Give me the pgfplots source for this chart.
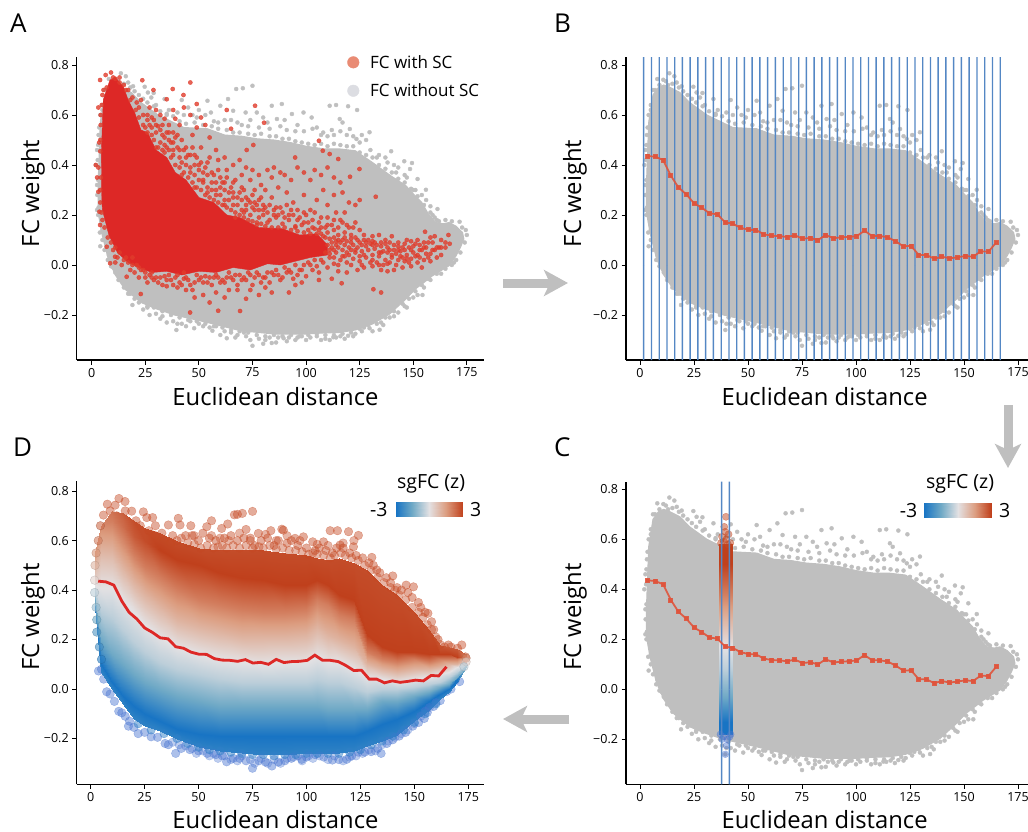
\documentclass[border=0pt]{standalone}
\usepackage{pgfplots}
\usepackage{pgfplotstable}
\usepackage{fontspec}
\setmainfont{Open Sans}
\pgfplotsset{compat=1.18}
\usetikzlibrary{arrows.meta}
\definecolor{gr}{RGB}{191,191,191}
\definecolor{redcore}{RGB}{221,40,38}
\definecolor{redpt}{RGB}{224,60,44}
\definecolor{blueline}{RGB}{84,135,196}
\definecolor{meanc}{RGB}{224,84,60}
\definecolor{topb}{RGB}{196,72,34}
\definecolor{botb}{RGB}{72,116,208}
\definecolor{botc}{RGB}{47,127,200}
\newcommand\lf{\fontsize{23.8}{26}\selectfont}
\newcommand\kf{\fontsize{17}{19}\selectfont}
\newcommand\cf{\fontsize{19.5}{21}\selectfont}
\newcommand\pf{\fontsize{26}{28}\selectfont}

\pgfplotstableread[row sep=\\]{x y\\
4.0 .57\\6 .68\\8.5 .71\\11 .72\\14 .71\\18.5 .69\\23 .65\\27 .625\\31 .60\\37 .575\\43 .55\\54 .545\\62 .52\\70 .515\\77 .505\\85 .50\\92.6 .49\\100 .475\\108 .465\\115 .465\\123 .457\\131 .41\\139 .36\\146.6 .317\\150 .285\\154 .25\\157 .205\\160.5 .17\\164 .165\\166.7 .17\\170 .155\\173 .13\\173.6 .104\\172 .07\\170 .037\\166.7 -.003\\159 -.043\\155 -.07\\151 -.096\\146.6 -.136\\139 -.196\\131 -.236\\123 -.26\\115.7 -.27\\108 -.272\\100 -.276\\85 -.276\\69.4 -.263\\54 -.23\\38.6 -.2\\30 -.175\\23 -.15\\15.4 -.096\\11 -.04\\7.7 .024\\4.6 .13\\3 .21\\3 .33\\3.5 .45\\}\greyhull

\pgfplotstableread[row sep=\\]{x y\\
2 .40\\3 .34\\2.5 .46\\3.2 .52\\4 .60\\2.6 .28\\3.2 .23\\4.5 .20\\5 .14\\4 .075\\7 .07\\8 .09\\7.5 .02\\9 -.005\\11 -.03\\12.5 -.06\\15.5 -.08\\17 -.115\\20 -.135\\24 -.178\\26 -.17\\19 -.16\\21 -.115\\30 -.195\\33 -.205\\35 -.23\\38 -.225\\39.5 -.26\\42 -.235\\47.8 -.253\\46 -.225\\52 -.245\\56.3 -.263\\58 -.245\\60 -.28\\63 -.293\\65 -.27\\68 -.28\\72 -.285\\75 -.323\\78 -.295\\81 -.30\\84 -.312\\87 -.29\\89.5 -.293\\92 -.29\\95 -.30\\98 -.285\\102 -.29\\105 -.285\\109 -.295\\112.7 -.289\\116 -.285\\119.6 -.283\\123 -.275\\126 -.265\\129.6 -.253\\134.3 -.259\\135 -.23\\139 -.21\\143 -.19\\146 -.165\\150 -.13\\154.3 -.12\\149.7 -.069\\155 -.09\\158 -.06\\163 -.035\\168 .0\\170 .02\\172 .05\\174 .09\\175 .12\\174.5 .14\\171.6 .173\\172.8 .15\\168 .175\\165 .18\\162 .175\\160 .19\\161.3 .224\\158 .235\\155.9 .301\\156 .26\\152 .344\\150 .30\\148.5 .384\\149.4 .408\\145.8 .415\\143 .39\\147 .35\\139.7 .455\\137 .43\\141 .40\\134 .44\\129.6 .531\\128 .50\\126 .52\\123.8 .62\\119.6 .635\\123.5 .504\\120.4 .544\\117 .57\\115.7 .584\\114 .64\\111 .637\\112 .54\\108 .53\\102.6 .59\\105 .55\\98.8 .61\\96 .56\\93.4 .604\\90 .58\\88.7 .644\\86.4 .584\\84 .637\\82 .57\\77 .61\\80 .59\\75 .717\\71.8 .61\\74 .58\\70.5 .707\\67.4 .704\\66 .617\\68 .57\\63.6 .664\\60 .637\\62 .58\\55.6 .61\\54 .657\\57 .575\\50 .62\\47 .60\\45 .63\\42 .66\\40 .61\\34 .664\\36 .62\\27.8 .67\\28.9 .688\\26.2 .69\\24.7 .713\\19.3 .715\\22 .68\\17 .73\\15.9 .755\\13.6 .767\\13 .72\\10.8 .741\\8 .744\\6 .70\\5 .64\\
5 .62\\7 .70\\9 .72\\12 .735\\15 .725\\18 .71\\20 .695\\24 .665\\26 .65\\29 .635\\32 .615\\35 .60\\38 .595\\41 .575\\44 .565\\48 .57\\52 .56\\56 .555\\59 .545\\63 .54\\66 .53\\69 .53\\73 .525\\76 .52\\79 .525\\83 .515\\86 .515\\89 .505\\92 .505\\95 .495\\98 .49\\101 .485\\104 .48\\107 .485\\110 .475\\113 .485\\116 .48\\119 .475\\122 .475\\125 .45\\128 .44\\131 .43\\134 .40\\137 .385\\140 .37\\143 .345\\146 .33\\149 .305\\152 .275\\155 .24\\158 .21\\161 .18\\
5 .10\\6 .06\\8 .04\\10 -.01\\13 -.05\\15 -.09\\18 -.115\\22 -.15\\26 -.165\\29 -.17\\33 -.185\\37 -.20\\41 -.21\\45 -.22\\49 -.225\\53 -.235\\57 -.245\\61 -.25\\65 -.26\\69 -.265\\73 -.27\\77 -.28\\81 -.285\\85 -.28\\89 -.285\\93 -.28\\97 -.285\\101 -.28\\105 -.275\\109 -.28\\113 -.28\\117 -.275\\121 -.27\\125 -.255\\129 -.24\\133 -.235\\137 -.21\\141 -.185\\145 -.155\\148 -.135\\151 -.105\\154 -.08\\157 -.055\\161 -.035\\165 -.015\\169 .01\\
3 .20\\2.5 .22\\2.5 .32\\2.8 .42\\3 .48\\3.5 .55\\4 .24\\3.8 .13\\
30 .64\\35 .605\\43 .60\\49 .59\\53 .60\\59 .57\\65 .58\\70 .56\\73 .555\\78 .55\\83 .545\\88 .555\\91 .54\\95 .535\\99 .535\\103 .545\\107 .52\\110 .515\\113 .52\\116 .535\\119 .52\\122 .515\\125 .49\\130 .46\\133 .43\\138 .41\\142 .37\\146 .36\\151 .30\\154 .28\\159 .2\\
27 -.20\\32 -.215\\40 -.235\\44 -.245\\50 -.235\\55 -.25\\62 -.265\\67 -.29\\71 -.27\\74 -.30\\80 -.315\\83 -.29\\86 -.31\\91 -.305\\96 -.29\\100 -.30\\107 -.30\\111 -.30\\114 -.29\\118 -.295\\122 -.285\\127 -.25\\131 -.265\\136 -.24\\141 -.205\\147 -.17\\152 -.12\\}\greypts

\pgfplotstableread[row sep=\\]{x y\\
4.7 .26\\4.5 .45\\5.4 .66\\8.5 .74\\11 .75\\14.8 .713\\17 .66\\20 .61\\23 .54\\26 .53\\30 .46\\35 .43\\39 .37\\44 .34\\50 .27\\57 .25\\63 .20\\69 .19\\78 .15\\89 .145\\97 .12\\105 .125\\110 .08\\110 .04\\102 .03\\95 .015\\88 .0\\82 .005\\74 -.02\\66 -.01\\58 -.03\\50 -.025\\42 -.04\\35 -.025\\28 -.03\\22 -.01\\17 .01\\12 .05\\8 .12\\5 .22\\}\redhull

\pgfplotstableread[row sep=\\]{x y\\
1.9 .40\\3.1 .63\\3.1 .39\\2.5 .35\\3.9 .74\\3.9 .16\\3.1 .293\\3.6 .213\\7 .073\\8.6 .007\\10.9 .033\\16.3 -.047\\5.5 .70\\6.5 .76\\9 .77\\11 .745\\4.2 .56\\3.5 .49\\4 .455\\13 .73\\16 .70\\18 .66\\20.5 .62\\22 .59\\24 .56\\26 .53\\28 .55\\23.6 .739\\28.8 .70\\37.8 .704\\42.8 .68\\46 .73\\35 .663\\49 .644\\63 .62\\76.2 .637\\80.4 .569\\106 .497\\75.4 .48\\72.3 .46\\94.9 .43\\107.8 .457\\111 .444\\115 .424\\124.9 .384\\120.5 .353\\132.5 .273\\155.5 .133\\166.4 .12\\30 .62\\32 .60\\34 .585\\31 .555\\36 .56\\38 .62\\39 .585\\41 .56\\43 .63\\46 .60\\33 .52\\36 .50\\38 .53\\42 .50\\47 .52\\49 .55\\51 .59\\53 .56\\30 .47\\34 .45\\38 .46\\41 .43\\44 .47\\48 .44\\51 .47\\55 .51\\58 .46\\62 .43\\65 .545\\59 .42\\54 .41\\50 .38\\46 .39\\42 .36\\52 .34\\56 .37\\60 .35\\63 .38\\66 .40\\69 .42\\72 .39\\70 .36\\66 .33\\62 .30\\58 .30\\54 .29\\48 .31\\75 .38\\78 .36\\74 .34\\70 .31\\66 .27\\62 .24\\72 .27\\76 .30\\79 .32\\82 .38\\85 .39\\88 .37\\84 .35\\81 .30\\78 .26\\75 .23\\71 .21\\67 .19\\80 .22\\84 .27\\87 .31\\90 .36\\93 .34\\96 .39\\99 .37\\91 .29\\94 .25\\88 .23\\85 .20\\82 .17\\77 .16\\92 .20\\96 .22\\99 .28\\102 .34\\104 .38\\107 .36\\110 .39\\113 .35\\116 .33\\108 .30\\105 .26\\102 .22\\99 .17\\95 .15\\103 .15\\107 .19\\110 .24\\113 .28\\117 .29\\120 .25\\123 .24\\125 .26\\118 .21\\114 .21\\110 .16\\106 .14\\113 .14\\117 .17\\120 .15\\123 .17\\125 .14\\127 .12\\109 .11\\112 .09\\115 .12\\118 .11\\121 .09\\124 .10\\128 .09\\131 .115\\134 .12\\137 .10\\140 .115\\143 .09\\146 .085\\149 .095\\152 .10\\155 .09\\158 .11\\160 .115\\163 .10\\165 .09\\167 .085\\162 .07\\159 .06\\156 .045\\153 .06\\150 .05\\147 .04\\144 .055\\141 .06\\138 .07\\135 .075\\132 .065\\129 .06\\126 .055\\123 .05\\120 .04\\117 .06\\114 .05\\111 .03\\113 .005\\116 .02\\119 .01\\122 .025\\125 .015\\128 .03\\131 .02\\134 .035\\137 .02\\140 .03\\143 .02\\146 .015\\149 .025\\152 .01\\155 .02\\158 .015\\161 .03\\163 .04\\154 -.01\\149 -.005\\145 -.01\\141 -.02\\138 -.025\\135 -.02\\131 -.005\\127 -.01\\124 -.02\\119 -.03\\115 -.025\\110 -.01\\106 -.03\\103 -.02\\100 -.045\\97 -.02\\94 -.055\\91 -.03\\88 -.06\\85 -.04\\82 -.03\\79 -.07\\76 -.05\\73 -.03\\70 -.06\\67 -.04\\64 -.03\\61 -.06\\58 -.04\\55 -.05\\52 -.07\\49 -.04\\46 -.08\\43 -.055\\40 -.04\\37 -.06\\34 -.045\\31 -.07\\28 -.05\\25 -.03\\22 -.01\\19 .0\\45.9 -.19\\69.2 -.184\\59 -.183\\22.9 -.116\\135 -.11\\131.4 -.097\\116.6 -.073\\48 -.13\\52 -.12\\55 -.15\\58 -.11\\62 -.13\\64 -.10\\68 -.10\\72 -.135\\74 -.10\\78 -.12\\81 -.09\\84 -.11\\92 -.11\\95 -.08\\98 -.07\\106 -.06\\112 -.055\\44 -.10\\40 -.09\\35 -.085\\
22 .63\\24 .60\\26 .58\\28 .52\\30 .53\\32 .49\\34 .51\\36 .46\\38 .44\\40 .47\\42 .41\\44 .43\\46 .37\\48 .40\\50 .34\\52 .37\\54 .31\\56 .33\\58 .28\\60 .31\\62 .26\\64 .29\\66 .24\\68 .27\\70 .22\\72 .24\\74 .20\\76 .22\\78 .19\\80 .20\\83 .18\\86 .19\\89 .165\\92 .18\\95 .155\\98 .16\\101 .14\\104 .145\\107 .125\\110 .13\\113 .11\\
23 .66\\27 .63\\29 .58\\33 .56\\35 .53\\37 .49\\40 .52\\43 .46\\45 .44\\47 .47\\49 .43\\51 .41\\53 .39\\55 .43\\57 .36\\59 .38\\61 .33\\63 .35\\65 .31\\67 .34\\69 .29\\71 .30\\73 .26\\75 .28\\77 .24\\79 .27\\81 .23\\83 .24\\86 .23\\89 .21\\91 .24\\94 .20\\97 .19\\100 .20\\103 .18\\106 .17\\109 .15\\112 .16\\115 .15\\118 .13\\121 .12\\
12 .03\\14 .0\\16 .03\\18 -.02\\20 -.03\\22 -.05\\24 -.02\\26 -.07\\28 -.03\\30 -.05\\33 -.08\\36 -.04\\38 -.08\\41 -.07\\43 -.03\\45 -.06\\47 -.10\\50 -.06\\53 -.045\\56 -.08\\59 -.05\\62 -.07\\65 -.05\\68 -.08\\71 -.05\\75 -.08\\77 -.03\\80 -.05\\83 -.07\\86 -.02\\89 -.05\\92 -.02\\96 -.04\\99 .0\\102 .0\\105 -.005\\108 .01\\
110 .08\\112 .07\\114 .08\\116 .09\\118 .08\\120 .07\\122 .08\\124 .07\\126 .08\\128 .075\\130 .085\\132 .09\\134 .05\\136 .055\\138 .05\\140 .04\\142 .045\\144 .035\\146 .06\\148 .07\\150 .075\\152 .04\\154 .06\\156 .07\\158 .045\\160 .06\\131 .04\\133 .01\\136 .0\\139 .01\\142 .0\\145 .03\\148 .01\\151 .035\\125 .035\\121 .06\\117 .035\\113 .03\\109 .05\\
7 .71\\10 .75\\13 .75\\15 .72\\17 .70\\19 .67\\21 .65\\25 .55\\27 .56\\29 .50\\31 .47\\33 .46\\35 .47\\37 .43\\39 .40\\41 .39\\43 .37\\45 .35\\47 .33\\49 .31\\51 .30\\53 .28\\55 .27\\57 .26\\59 .25\\61 .24\\63 .23\\65 .22\\67 .21\\69 .20\\71 .19\\73 .18\\75 .175\\77 .17\\79 .165\\81 .155\\84 .15\\87 .15\\90 .15\\93 .14\\96 .135\\99 .13\\102 .125\\105 .125\\108 .115\\111 .105\\114 .095\\
26 .60\\28 .59\\30 .56\\32 .54\\34 .48\\36 .53\\38 .49\\39 .51\\41 .46\\44 .40\\46 .44\\48 .36\\50 .40\\52 .33\\54 .36\\56 .30\\58 .33\\60 .28\\62 .33\\64 .26\\66 .29\\68 .24\\70 .26\\72 .22\\74 .25\\76 .25\\78 .22\\80 .24\\82 .21\\85 .22\\87 .20\\90 .19\\93 .22\\96 .18\\99 .21\\101 .17\\104 .21\\107 .15\\110 .19\\113 .18\\116 .18\\119 .16\\122 .15\\
111 .06\\113 .06\\115 .10\\117 .10\\119 .095\\121 .105\\123 .11\\125 .09\\127 .10\\129 .10\\131 .095\\133 .08\\135 .09\\137 .085\\139 .09\\141 .08\\143 .075\\145 .07\\147 .10\\149 .06\\151 .085\\153 .08\\155 .07\\157 .09\\159 .09\\161 .07\\163 .07\\165 .07\\157 .03\\153 .03\\147 .025\\143 .06\\139 .06\\135 .05\\131 .08\\127 .04\\123 .06\\119 .05\\115 .07\\111 .045\\115 .0\\118 .035\\121 .0\\126 .0\\130 .01\\134 .0\\138 .005\\
10 .06\\11 .01\\13 .05\\15 .02\\17 .01\\19 .03\\21 .0\\23 -.02\\25 -.05\\27 -.04\\29 -.06\\32 -.05\\35 -.06\\39 -.05\\42 -.08\\44 -.05\\48 -.07\\51 -.05\\54 -.07\\57 -.05\\60 -.07\\63 -.05\\66 -.06\\69 -.04\\72 -.06\\74 -.04\\78 -.04\\81 -.05\\84 -.03\\87 -.04\\90 -.01\\93 -.03\\95 .0\\98 -.02\\101 .01\\104 .02\\107 .02\\
4 .30\\4.3 .35\\4 .25\\4.6 .21\\5 .18\\6 .15\\7.5 .11\\9 .09\\11 .07\\4 .50\\4.2 .60\\4.7 .64\\5 .68\\}\redpts

\pgfplotstableread[row sep=\\]{x y\\
3.5 .436\\7.1 .433\\10.7 .42\\14.3 .357\\17.8 .31\\21.4 .283\\25.0 .247\\28.6 .229\\32.2 .207\\35.8 .203\\39.4 .171\\43.0 .165\\46.5 .149\\50.1 .141\\53.7 .14\\57.3 .123\\60.9 .117\\64.5 .116\\68.1 .112\\71.7 .119\\75.2 .105\\78.8 .108\\82.4 .10\\86.0 .12\\89.6 .107\\93.2 .111\\96.8 .112\\100.4 .116\\103.9 .137\\107.5 .116\\111.1 .116\\114.7 .111\\118.3 .095\\121.9 .075\\125.5 .076\\129.1 .04\\132.6 .04\\136.2 .025\\139.8 .033\\143.4 .027\\147.0 .031\\150.6 .036\\154.2 .033\\157.8 .055\\161.3 .053\\164.9 .09\\}\meanline

\pgfplotstableread[row sep=\\]{x y\\
1.7 .832\\5.3 .832\\8.9 .832\\12.5 .832\\16.1 .832\\19.6 .832\\23.2 .832\\26.8 .832\\30.4 .832\\34.0 .832\\37.6 .832\\41.2 .832\\44.8 .832\\48.3 .832\\51.9 .832\\55.5 .832\\59.1 .832\\62.7 .832\\66.3 .832\\69.9 .832\\73.5 .832\\77.0 .832\\80.6 .832\\84.2 .832\\87.8 .832\\91.4 .832\\95.0 .832\\98.6 .832\\102.2 .832\\105.8 .832\\109.3 .832\\112.9 .832\\116.5 .832\\120.1 .832\\123.7 .832\\127.3 .832\\130.9 .832\\134.5 .832\\138.0 .832\\141.6 .832\\145.2 .832\\148.8 .832\\152.4 .832\\156.0 .832\\159.6 .832\\163.2 .832\\166.8 .832\\}\binedges

% mesh for panel D: one column per x, nine levels of the z-scored colour
\pgfplotstableread[row sep=\\]{x y m\\
2 .33 -3\\2 .33 -3\\2 .36 -1.5\\2 .39 -.5\\2 .42 0\\2 .46 .6\\2 .50 1\\2 .53 1.3\\2 .55 1.5\\
5 .07 -2.6\\5 .10 -3\\5 .20 -1.5\\5 .32 -.5\\5 .41 0\\5 .52 .7\\5 .60 1.3\\5 .64 1.6\\5 .66 1.8\\
10 .0 -2.6\\10 .03 -3\\10 .14 -1.5\\10 .29 -.5\\10 .41 0\\10 .53 .8\\10 .62 1.5\\10 .68 2\\10 .72 2.2\\
15 -.06 -2.6\\15 -.03 -3\\15 .10 -1.5\\15 .24 -.5\\15 .36 0\\15 .49 1\\15 .59 1.8\\15 .66 2.3\\15 .71 2.5\\
20 -.12 -2.6\\20 -.07 -3\\20 .06 -1.5\\20 .19 -.5\\20 .31 0\\20 .43 1\\20 .54 2\\20 .62 2.6\\20 .68 2.8\\
25 -.15 -2.6\\25 -.10 -3\\25 .03 -1.5\\25 .15 -.5\\25 .26 0\\25 .38 1\\25 .49 2\\25 .60 2.8\\25 .65 2.8\\
32 -.17 -2.6\\32 -.13 -3\\32 .0 -1.5\\32 .11 -.5\\32 .21 0\\32 .33 1\\32 .45 2\\32 .56 3\\32 .63 2.8\\
40 -.20 -2.6\\40 -.16 -3\\40 -.03 -1.5\\40 .08 -.5\\40 .17 0\\40 .28 1\\40 .40 2\\40 .52 3\\40 .60 2.8\\
50 -.235 -2.6\\50 -.18 -3\\50 -.05 -1.5\\50 .06 -.5\\50 .14 0\\50 .25 1\\50 .36 2\\50 .50 3\\50 .57 2.8\\
60 -.25 -2.6\\60 -.19 -3\\60 -.07 -1.5\\60 .04 -.5\\60 .12 0\\60 .23 1\\60 .34 2\\60 .47 3\\60 .56 2.8\\
70 -.26 -2.6\\70 -.19 -3\\70 -.07 -1.5\\70 .03 -.5\\70 .11 0\\70 .21 1\\70 .32 2\\70 .45 3\\70 .56 2.8\\
80 -.265 -2.6\\80 -.19 -3\\80 -.07 -1.5\\80 .03 -.5\\80 .10 0\\80 .21 1\\80 .31 2\\80 .44 3\\80 .56 2.8\\
90 -.265 -2.6\\90 -.19 -3\\90 -.07 -1.5\\90 .03 -.5\\90 .11 0\\90 .21 1\\90 .31 2\\90 .42 3\\90 .55 2.8\\
100 -.26 -2.6\\100 -.19 -3\\100 -.07 -1.5\\100 .03 -.5\\100 .11 0\\100 .22 1\\100 .32 2\\100 .42 3\\100 .54 2.8\\
105 -.26 -2.6\\105 -.19 -3\\105 -.07 -1.5\\105 .04 -.5\\105 .13 0\\105 .25 1\\105 .36 2\\105 .44 3\\105 .53 2.8\\
110 -.26 -2.6\\110 -.19 -3\\110 -.08 -1.5\\110 .03 -.5\\110 .11 0\\110 .22 1\\110 .34 2\\110 .42 3\\110 .52 2.8\\
115 -.26 -2.6\\115 -.19 -3\\115 -.08 -1.5\\115 .03 -.5\\115 .11 0\\115 .20 1\\115 .30 2\\115 .38 3\\115 .53 2.8\\
122 -.25 -2.6\\122 -.19 -3\\122 -.08 -1.5\\122 .01 -.5\\122 .08 0\\122 .17 1\\122 .28 2\\122 .36 3\\122 .51 2.8\\
128 -.23 -2.6\\128 -.17 -3\\128 -.08 -1.5\\128 -.01 -.5\\128 .05 0\\128 .10 1\\128 .15 2\\128 .22 3\\128 .48 2.8\\
135 -.21 -2.6\\135 -.14 -3\\135 -.05 -1.5\\135 .0 -.5\\135 .04 0\\135 .08 1\\135 .12 2\\135 .17 3\\135 .42 2.8\\
142 -.185 -2.6\\142 -.12 -3\\142 -.05 -1.5\\142 .0 -.5\\142 .03 0\\142 .07 1\\142 .11 2\\142 .15 3\\142 .38 2.8\\
150 -.13 -2.6\\150 -.09 -3\\150 -.03 -1.5\\150 .01 -.5\\150 .04 0\\150 .08 1\\150 .12 2\\150 .15 3\\150 .31 2.8\\
157 -.085 -2.6\\157 -.05 -3\\157 -.01 -1.5\\157 .02 -.5\\157 .05 0\\157 .08 1\\157 .11 2\\157 .14 3\\157 .24 2.8\\
162 -.04 -2.6\\162 -.02 -3\\162 .01 -1.5\\162 .03 -.5\\162 .06 0\\162 .09 1\\162 .12 2\\162 .14 3\\162 .18 2.6\\
166 -.01 -2.6\\166 .0 -3\\166 .02 -1.5\\166 .05 -.5\\166 .07 0\\166 .10 1\\166 .12 2\\166 .14 3\\166 .17 2.6\\
170 .03 -3\\170 .04 -3\\170 .05 -1.5\\170 .07 -.5\\170 .09 0\\170 .10 1\\170 .12 2\\170 .13 3\\170 .16 2.6\\
174 .09 -1\\174 .09 -1\\174 .10 -.5\\174 .10 0\\174 .11 .5\\174 .12 1\\174 .13 1.6\\174 .13 2\\174 .14 2.4\\
}\dmesh

\pgfplotstableread[row sep=\\]{x y m\\
36.4 -.18 -3\\36.4 -.13 -3\\36.4 -.03 -1.5\\36.4 .08 -.5\\36.4 .17 0\\36.4 .28 1\\36.4 .38 2\\36.4 .50 3\\36.4 .58 3\\
42.8 -.18 -3\\42.8 -.13 -3\\42.8 -.03 -1.5\\42.8 .08 -.5\\42.8 .17 0\\42.8 .28 1\\42.8 .38 2\\42.8 .50 3\\42.8 .58 3\\
}\cmesh

\pgfplotstableread[row sep=\\]{x y\\
39.8 .69\\39 .65\\39.5 .63\\38 .61\\40 .60\\41 .62\\37.5 .585\\41.8 .585\\38.8 .59\\40.7 .58\\}\ctop
\pgfplotstableread[row sep=\\]{x y\\
39.5 -.26\\40 -.225\\38.5 -.19\\40.5 -.20\\38 -.20\\41.5 -.19\\37.2 -.18\\42 -.18\\}\cbot

\pgfplotstableread[row sep=\\]{x y m\\
-3 0 -3\\-3 1 -3\\-1.5 0 -1.5\\-1.5 1 -1.5\\0 0 0\\0 1 0\\1.5 0 1.5\\1.5 1 1.5\\3 0 3\\3 1 3\\}\cbmesh

\pgfplotstableread[row sep=\\]{x y\\
13.1 .77\\15.9 .758\\11.3 .743\\7.7 .747\\5.9 .703\\19 .719\\24.4 .716\\26 .693\\28.7 .693\\36 .663\\40.6 .69\\41.4 .663\\46.4 .66\\56 .68\\53.8 .656\\60.7 .649\\63.5 .667\\66.6 .704\\68 .706\\70.3 .71\\75 .718\\72 .645\\77.7 .629\\83.5 .64\\88.6 .646\\89.3 .642\\94.7 .609\\98.6 .615\\102.9 .595\\107.9 .595\\111 .64\\114.4 .64\\119.5 .636\\124.1 .621\\115.6 .582\\121.8 .575\\130.3 .532\\132.6 .481\\140 .457\\146.2 .42\\149.6 .413\\147 .39\\151.9 .35\\156.3 .306\\158 .272\\172 .178\\165.8 .178\\162 .158\\173.7 .13\\
9 .72\\12 .70\\16 .72\\21 .68\\23 .66\\30 .66\\33 .63\\38 .62\\44 .62\\47 .62\\50 .60\\52 .63\\55 .61\\58 .60\\62 .61\\65 .62\\68 .60\\71 .61\\74 .61\\76 .58\\79 .60\\82 .61\\85 .58\\87 .60\\91 .59\\93 .60\\96 .58\\100 .57\\104 .56\\106 .57\\109 .56\\112 .55\\114 .57\\117 .57\\120 .55\\123 .54\\126 .53\\129 .51\\131 .50\\134 .47\\137 .45\\139 .43\\142 .41\\144 .40\\149 .37\\153 .33\\155 .31\\159 .24\\161 .20\\164 .17\\167 .17\\170 .165\\}\dtop

\pgfplotstableread[row sep=\\]{x y\\
27 .64\\30 .62\\34 .60\\37 .59\\40 .60\\42 .61\\45 .59\\48 .585\\51 .57\\54 .58\\57 .57\\59 .575\\61 .58\\63 .57\\66 .58\\69 .57\\72 .58\\75 .57\\78 .575\\80 .57\\83 .58\\86 .565\\89 .57\\92 .56\\95 .56\\98 .555\\101 .545\\103 .55\\105 .545\\108 .54\\111 .53\\113 .54\\116 .55\\118 .54\\121 .53\\124 .52\\127 .50\\130 .48\\133 .45\\136 .43\\139 .41\\141 .40\\143 .38\\146 .36\\149 .33\\152 .31\\154 .29\\156 .26\\158 .24\\160 .21\\162 .18\\48 .62\\56 .62\\60 .61\\64 .60\\69 .63\\74 .60\\81 .625\\86 .60\\91 .62\\97 .60\\105 .585\\110 .58\\117 .59\\122 .60\\}\dtoptwo

\pgfplotstableread[row sep=\\]{x y\\
39.4 -.26\\34.5 -.22\\28 -.193\\22 -.18\\17.5 -.15\\14.4 -.096\\7.4 -.011\\3.6 .073\\5 .08\\75 -.32\\84 -.311\\63 -.294\\97.8 -.284\\112 -.287\\118.7 -.284\\134.6 -.26\\130 -.253\\154.6 -.119\\149.3 -.15\\137.3 -.22\\162 -.047\\169 .036\\
6 .04\\9 -.02\\11 -.05\\13 -.09\\16 -.11\\18 -.13\\20 -.155\\25 -.175\\31 -.195\\36 -.225\\42 -.24\\46 -.245\\50 -.25\\54 -.26\\58 -.265\\61 -.27\\66 -.28\\69 -.28\\72 -.29\\78 -.29\\81 -.295\\87 -.295\\90 -.29\\93 -.28\\96 -.27\\100 -.275\\104 -.265\\108 -.275\\115 -.285\\121 -.27\\124 -.255\\127 -.255\\133 -.24\\140 -.205\\143 -.19\\146 -.175\\152 -.135\\156 -.095\\159 -.07\\165 -.01\\167 .0\\171 .03\\}\dbot

\pgfplotstableread[row sep=\\]{x y\\
38 -.215\\41 -.225\\44 -.23\\47 -.24\\49 -.26\\52 -.25\\55 -.27\\57 -.26\\59 -.28\\62 -.27\\65 -.285\\68 -.29\\70 -.27\\74 -.285\\76 -.30\\79 -.28\\82 -.30\\85 -.285\\88 -.30\\91 -.28\\94 -.275\\98 -.29\\101 -.27\\103 -.28\\106 -.27\\110 -.285\\113 -.27\\117 -.29\\120 -.275\\123 -.27\\126 -.26\\129 -.245\\132 -.25\\135 -.225\\138 -.21\\141 -.195\\144 -.18\\147 -.165\\150 -.14\\153 -.11\\155 -.09\\157 -.075\\160 -.055\\}\dbottwo

\pgfplotstableread[row sep=\\]{x y\\
22 -.14\\28 -.165\\34 -.18\\40 -.20\\45 -.22\\50 -.235\\55 -.245\\60 -.25\\65 -.255\\70 -.26\\75 -.265\\80 -.265\\85 -.27\\90 -.265\\95 -.265\\100 -.26\\105 -.26\\110 -.26\\115 -.26\\120 -.255\\125 -.245\\130 -.225\\135 -.21\\140 -.19\\145 -.165\\150 -.135\\155 -.10\\160 -.06\\}\dbotthree

\pgfplotstableread[row sep=\\]{x y m\\
2.5 .55 1.6\\2 .50 1\\1.8 .44 .3\\1.8 .39 -.5\\2.5 .33 -1\\2.8 .28 -1.5\\2.8 .23 -2\\4 .17 -2.3\\5 .12 -2.7\\3.5 .60 2\\4.5 .66 2.3\\174 .125 2\\174 .11 .5\\173 .09 -.5\\}\dleft

\pgfplotsset{
  sgmap/.style={
    colormap={sg}{rgb255=(24,116,196) rgb255=(111,169,198) rgb255=(227,225,227) rgb255=(220,157,128) rgb255=(192,64,28)},
    point meta min=-3, point meta max=3,
  },
  panel/.style={
    sgmap,
    scale only axis,
    clip mode=individual,
    axis lines=left,
    axis line style={-,line width=1.3pt},
    tick style={black,line width=1pt},
    major tick length=4.5pt,
    tick align=outside,
    xtick={0,25,50,75,100,125,150,175},
    xticklabels={0,25,50,75,100,125,150,175},
    ytick={-0.2,0,0.2,0.4,0.6,0.8},
    yticklabels={−0.2,0.0,0.2,0.4,0.6,0.8},
    tick label style={font=\fontsize{12.5}{13}\selectfont},
    xlabel={Euclidean distance},
    ylabel={FC weight},
  },
  binline/.style={ybar,bar width=1.4pt,bar shift=0pt,fill=blueline,draw=none},
  cbarbox/.style={sgmap,scale only axis,hide axis,anchor=south west,width=67pt,height=14.3pt,
    xmin=-3,xmax=3,ymin=0,ymax=1},
}

\begin{document}
\begin{tikzpicture}
\path[use as bounding box] (0,0) rectangle (1028pt,-832pt);

% ---------- A
\begin{axis}[panel, at={(76.7pt,-360pt)}, anchor=south west, width=407.3pt, height=303pt,
  xmin=-7, xmax=183, ymin=-.38, ymax=.832,
  every axis x label/.style={at={([yshift=-37pt]rel axis cs:.488,0)},anchor=center,font=\lf},
  every axis y label/.style={at={([xshift=-43.7pt]rel axis cs:0,.55)},rotate=90,anchor=center,font=\lf},
  legend style={at={(rel axis cs:.657,1.02)},anchor=north west,draw=none,fill=none,font=\kf,row sep=10pt,/tikz/column 1/.style={column sep=9pt}},
  legend cell align=left]
\addplot[only marks,mark=*,mark size=5.8pt,color={rgb,255:red,233;green,139;blue,116}] coordinates {(-100,0)};
\addlegendentry{FC with SC}
\addplot[only marks,mark=*,mark size=5.8pt,color={rgb,255:red,220;green,221;blue,226}] coordinates {(-100,0)};
\addlegendentry{FC without SC}
\addplot[forget plot,fill=gr,draw=gr,line width=1pt] table[x=x,y=y]{\greyhull} --cycle;
\addplot[forget plot,only marks,mark=*,mark size=2pt,color=gr] table[x=x,y=y]{\greypts};
\addplot[forget plot,fill=redcore,draw=redcore] table[x=x,y=y]{\redhull} --cycle;
\addplot[forget plot,only marks,mark=*,mark size=2.1pt,color=redpt,mark options={opacity=.8}] table[x=x,y=y]{\redpts};
\end{axis}

% ---------- B
\begin{axis}[panel, at={(626pt,-360pt)}, anchor=south west, width=402pt, height=303pt,
  xmin=-6.48, xmax=179.63, ymin=-.38, ymax=.832,
  every axis x label/.style={at={([yshift=-37pt]rel axis cs:.494,0)},anchor=center,font=\lf},
  every axis y label/.style={at={([xshift=-51pt]rel axis cs:0,.55)},rotate=90,anchor=center,font=\lf}]
\addplot[fill=gr,draw=gr,line width=1pt] table[x=x,y=y]{\greyhull} --cycle;
\addplot[only marks,mark=*,mark size=2pt,color=gr] table[x=x,y=y]{\greypts};
\addplot[binline] table[x=x,y=y]{\binedges};
\addplot[binline] table[x=x,y expr=-.38]{\binedges};
\addplot[color=meanc,line width=1.8pt,opacity=.9,mark=square*,mark size=1.6pt] table[x=x,y=y]{\meanline};
\end{axis}

% ---------- C
\begin{axis}[panel, at={(626pt,-784.3pt)}, anchor=south west, width=402pt, height=302.6pt,
  xmin=-6.48, xmax=179.63, ymin=-.38, ymax=.8304,
  every axis x label/.style={at={([yshift=-35pt]rel axis cs:.494,0)},anchor=center,font=\lf},
  every axis y label/.style={at={([xshift=-51pt]rel axis cs:0,.553)},rotate=90,anchor=center,font=\lf}]
\addplot[fill=gr,draw=gr,line width=1pt] table[x=x,y=y]{\greyhull} --cycle;
\addplot[only marks,mark=*,mark size=2pt,color=gr] table[x=x,y=y]{\greypts};
\addplot[surf,shader=interp,mesh/cols=9,point meta=\thisrow{m}] table[x=x,y=y]{\cmesh};
\addplot[only marks,mark=*,mark size=3.6pt,color=topb,mark options={opacity=.5}] table[x=x,y=y]{\ctop};
\addplot[only marks,mark=*,mark size=3.4pt,color=botb,mark options={opacity=.45}] table[x=x,y=y]{\cbot};
\addplot[binline] coordinates {(37.8,.8304)(41.4,.8304)};
\addplot[binline] coordinates {(37.8,-.38)(41.4,-.38)};
\addplot[color=meanc,line width=1.8pt,opacity=.9,mark=square*,mark size=1.6pt] table[x=x,y=y]{\meanline};
\node[font=\cf,anchor=center] at (axis description cs:.831,.9925) {sgFC (z)};
\node[font=\cf,anchor=east] at (axis description cs:.7335,.9035) {-3};
\node[font=\cf,anchor=west] at (axis description cs:.9195,.9035) {3};
\end{axis}
\begin{axis}[cbarbox, at={(924.3pt,-517pt)}]
\addplot[surf,shader=interp,mesh/cols=2,point meta=\thisrow{m}] table[x=x,y=y]{\cbmesh};
\end{axis}

% ---------- D
\begin{axis}[panel, at={(76.7pt,-784.3pt)}, anchor=south west, width=407.3pt, height=303.6pt,
  xmin=-6.49, xmax=182.3, ymin=-.385, ymax=.842,
  every axis x label/.style={at={([yshift=-35pt]rel axis cs:.488,0)},anchor=center,font=\lf},
  every axis y label/.style={at={([xshift=-43.7pt]rel axis cs:0,.551)},rotate=90,anchor=center,font=\lf}]
\addplot[only marks,mark=*,mark size=4.3pt,color=topb,mark options={opacity=.45}] table[x=x,y=y]{\dtop};
\addplot[only marks,mark=*,mark size=4.3pt,color=botb,mark options={opacity=.45}] table[x=x,y=y]{\dbot};
\addplot[surf,shader=interp,mesh/cols=9,point meta=\thisrow{m}] table[x=x,y=y]{\dmesh};
\addplot[only marks,mark=*,mark size=4.3pt,color=topb,mark options={opacity=.4}] table[x=x,y=y]{\dtoptwo};
\addplot[only marks,mark=*,mark size=4.3pt,color=botb,mark options={opacity=.35}] table[x=x,y=y]{\dbottwo};
\addplot[only marks,mark=*,mark size=4.3pt,color=botc,mark options={opacity=.5}] table[x=x,y=y]{\dbotthree};
\addplot[scatter,only marks,mark=*,mark size=4.3pt,scatter src=\thisrow{m},mark options={opacity=.6}] table[x=x,y=y]{\dleft};
\addplot[color=redcore,line width=2.8pt] table[x=x,y=y]{\meanline};
\node[font=\cf,anchor=center] at (axis description cs:.87,.989) {sgFC (z)};
\node[font=\cf,anchor=east] at (axis description cs:.772,.9035) {-3};
\node[font=\cf,anchor=west] at (axis description cs:.957,.9035) {3};
\end{axis}
\begin{axis}[cbarbox, at={(395.7pt,-516pt)}]
\addplot[surf,shader=interp,mesh/cols=2,point meta=\thisrow{m}] table[x=x,y=y]{\cbmesh};
\end{axis}

% panel letters
\foreach \l/\x/\y in {A/10/33,B/554/33,C/554/456,D/13/456}
  \node[anchor=base west,inner sep=0pt,font=\pf] at (\x pt,-\y pt) {\l};

% flow arrows
\draw[gr,line width=9pt,-{Stealth[length=24pt,width=26pt,inset=6pt]}] (503pt,-283pt) -- (568pt,-283pt);
\draw[gr,line width=9pt,-{Stealth[length=24pt,width=26pt,inset=6pt]}] (1008pt,-405pt) -- (1008pt,-468pt);
\draw[gr,line width=9pt,-{Stealth[length=24pt,width=26pt,inset=6pt]}] (569pt,-719pt) -- (503pt,-719pt);
\end{tikzpicture}
\end{document}
